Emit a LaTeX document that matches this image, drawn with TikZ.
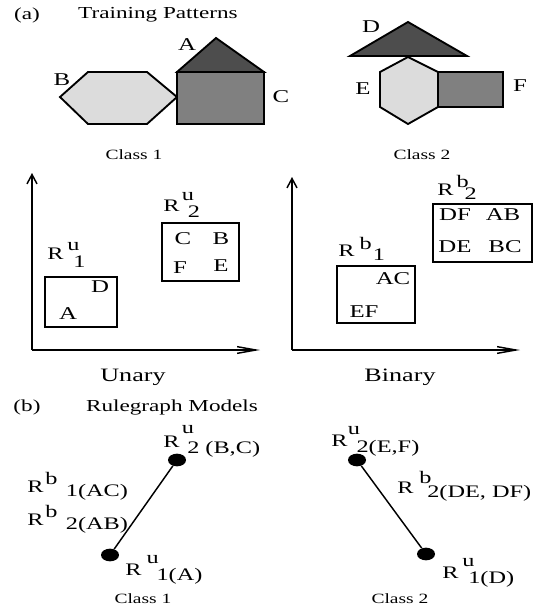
\documentclass[tikz,border=0pt]{standalone}
\usepackage{fontspec}
\setmainfont[FakeStretch=1.38]{Liberation Serif}
\usetikzlibrary{shapes.geometric,arrows.meta}
\definecolor{lightg}{HTML}{DCDCDC}
\definecolor{midg}{HTML}{808080}
\definecolor{darkg}{HTML}{4D4D4D}
% R with a raised index and a lowered one: sup, sup shift, raise, sub, sub shift, drop
\newcommand{\rlab}[6]{\rlap{R}\rlap{\hspace*{#2}\raisebox{#3}{#1}}\hspace*{#5}\raisebox{-#6}{#4}}
\begin{document}
\begin{tikzpicture}[x=0.75pt,y=-0.75pt,
  shp/.style={draw=black,line width=1.4pt,line join=miter},
  ttl/.style={inner sep=0pt,font=\fontsize{12.6}{14}\selectfont},
  lbl/.style={inner sep=0pt,font=\fontsize{13.5}{15}\selectfont},
  cls/.style={inner sep=0pt,font=\fontsize{10.6}{12}\selectfont},
  rl/.style={inner sep=0pt,anchor=base west,font=\fontsize{13.2}{15}\selectfont},
  axis/.style={line width=1.1pt},
  xarr/.style={-{Straight Barb[length=14pt,width=5pt]}},
  yarr/.style={-{Straight Barb[length=7pt,width=7.5pt]}},
  rbox/.style={draw,line width=1pt},
  dot/.style={ellipse,fill=black,inner sep=0pt,minimum width=13.5pt,minimum height=9.5pt},
  edge/.style={line width=1.1pt}]
 \useasboundingbox (0,0) rectangle (549,611);
 % (a) training patterns
 \node[ttl] (ta) at (27,15) {(a)};
 \node[ttl] (tp) at (158,15) {Training Patterns};
 \draw[shp,fill=lightg] (60,97)--(88,72)--(147,72)--(177,97)--(147,124)--(88,124)--cycle;
 \draw[shp,fill=midg] (177,72) rectangle (264,124);
 \draw[shp,fill=darkg] (177,72)--(216,38)--(264,72)--cycle;
 \draw[shp,fill=darkg] (350,56)--(408,22)--(467,56)--cycle;
 \draw[shp,fill=lightg] (408,57)--(438,72)--(438,107)--(408,124)--(380,107)--(380,72)--cycle;
 \draw[shp,fill=midg] (438,72) rectangle (503,107);
 \foreach \t/\x/\y in {A/187/45,B/62/80,C/281/97,D/371/27,E/363/89,F/520/86}
   \node[lbl] (s\t) at (\x,\y) {\t};
 \node[cls] (c1) at (134,155) {Class 1};
 \node[cls] (c2) at (422,155) {Class 2};
 % unary and binary feature spaces
 \coordinate (uo) at (32,350);
 \coordinate (bo) at (292,350);
 \draw[axis,yarr] (uo) -- (32,173);
 \draw[axis,xarr] (uo) -- (260,350);
 \draw[axis,yarr] (bo) -- (292,177);
 \draw[axis,xarr] (bo) -- (520,350);
 \draw[rbox] (45,277) rectangle (117,327);
 \draw[rbox] (162,223) rectangle (239,281);
 \draw[rbox] (337,266) rectangle (415,323);
 \draw[rbox] (433,204) rectangle (532,262);
 \foreach \t/\x/\y in {D/100/287,A/68/314,C/183/239,B/221/239,F/180/268,E/221/266,
   AC/393/279,EF/364/312,DF/455/215,AB/503/215,DE/455/247,BC/505/247}
   \node[lbl] (m\t) at (\x,\y) {\t};
 \node[rl] (ru1) at (47,259) {\rlab{u}{15pt}{6.5pt}{1}{19.5pt}{6pt}};
 \node[rl] (ru2) at (163,211) {\rlab{u}{14pt}{8.25pt}{2}{18.5pt}{5pt}};
 \node[rl] (rb1) at (338,256) {\rlab{b}{16pt}{5pt}{1}{26pt}{3.5pt}};
 \node[rl] (rb2) at (437,195) {\rlab{b}{14.5pt}{6pt}{2}{20.5pt}{3pt}};
 \node[ttl,font=\fontsize{14.2}{16}\selectfont] (un) at (133,377) {Unary};
 \node[ttl,font=\fontsize{14.2}{16}\selectfont] (bi) at (400,377) {Binary};
 % (b) rulegraph models
 \node[ttl] (tb) at (27,407) {(b)};
 \node[ttl] (tr) at (172,407) {Rulegraph Models};
 \node[dot] (a2) at (177,460) {};
 \node[dot] (a1) at (110,555) {};
 \node[dot] (b2) at (357,460) {};
 \node[dot] (b1) at (426,554) {};
 \draw[edge] (a1) -- (a2);
 \draw[edge] (b2) -- (b1);
 \node[rl] (la2) at (163,447) {\rlab{u}{14pt}{10.5pt}{2 (B,C)}{18pt}{4.5pt}};
 \node[rl] (le1) at (27,492) {\rlab{b}{13.5pt}{6pt}{1(AC)}{29pt}{3pt}};
 \node[rl] (le2) at (27,525) {\rlab{b}{13.5pt}{6pt}{2(AB)}{29pt}{3pt}};
 \node[rl] (la1) at (125,575) {\rlab{u}{16pt}{9pt}{1(A)}{23.5pt}{3.75pt}};
 \node[rl] (lb2) at (331,446) {\rlab{u}{12.5pt}{9pt}{2(E,F)}{19pt}{4.5pt}};
 \node[rl] (le3) at (397,493) {\rlab{b}{16.5pt}{7pt}{2(DE, DF)}{22.5pt}{3pt}};
 \node[rl] (lb1) at (442,578) {\rlab{u}{15pt}{9pt}{1(D)}{19.5pt}{3.75pt}};
 \node[cls] (c3) at (143,599) {Class 1};
 \node[cls] (c4) at (400,599) {Class 2};
\end{tikzpicture}
\end{document}
